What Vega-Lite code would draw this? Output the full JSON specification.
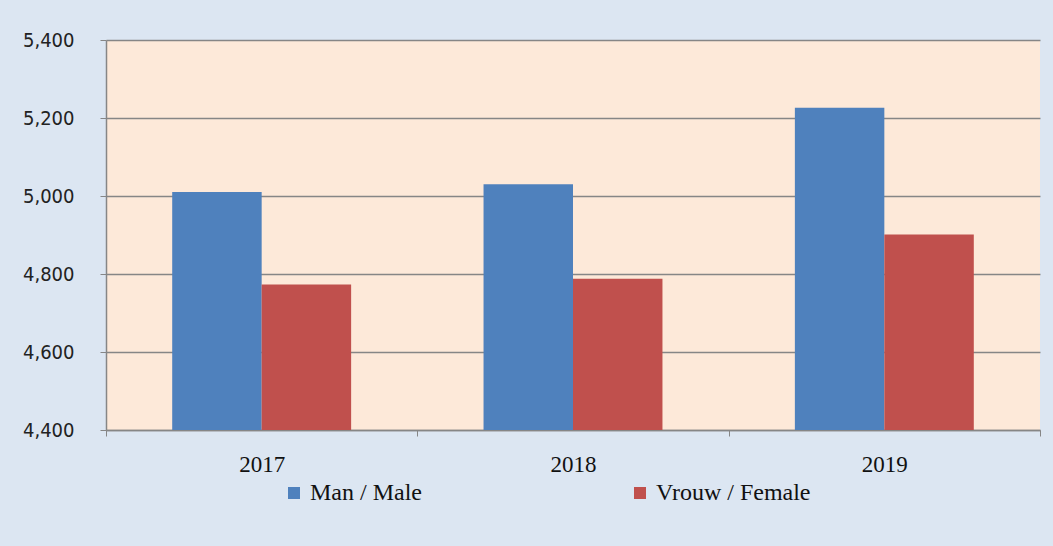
{
  "$schema": "https://vega.github.io/schema/vega-lite/v6.json",
  "width": 934,
  "height": 390,
  "autosize": {"type": "none"},
  "padding": {"left": 106, "top": 40, "right": 13, "bottom": 116},
  "background": "#DCE6F2",
  "data": {
    "values": [
      {"year": "2017", "sex": "Man / Male", "value": 5010},
      {"year": "2017", "sex": "Vrouw / Female", "value": 4773},
      {"year": "2018", "sex": "Man / Male", "value": 5030},
      {"year": "2018", "sex": "Vrouw / Female", "value": 4788},
      {"year": "2019", "sex": "Man / Male", "value": 5226},
      {"year": "2019", "sex": "Vrouw / Female", "value": 4901}
    ]
  },
  "mark": {"type": "bar", "clip": true},
  "encoding": {
    "x": {
      "field": "year",
      "type": "nominal",
      "scale": {"paddingInner": 0, "paddingOuter": 0},
      "axis": {
        "title": null,
        "labelAngle": 0,
        "tickBand": "extent",
        "tickSize": 6,
        "tickColor": "#868686",
        "domainColor": "#868686",
        "domainWidth": 1.5,
        "labelFont": "Liberation Serif",
        "labelFontSize": 23,
        "labelColor": "#111111",
        "labelPadding": 17
      }
    },
    "xOffset": {
      "field": "sex",
      "type": "nominal",
      "scale": {"paddingInner": 0, "paddingOuter": 0.74}
    },
    "y": {
      "field": "value",
      "type": "quantitative",
      "scale": {"domain": [4400, 5400], "zero": false, "nice": false},
      "axis": {
        "title": null,
        "values": [4400, 4600, 4800, 5000, 5200, 5400],
        "format": ",d",
        "grid": true,
        "gridColor": "#868686",
        "gridWidth": 1.5,
        "domainColor": "#868686",
        "domainWidth": 1.5,
        "tickColor": "#868686",
        "tickSize": 6,
        "labelFont": "DejaVu Sans Condensed",
        "labelFontSize": 20,
        "labelColor": "#222222",
        "labelPadding": 26
      }
    },
    "color": {
      "field": "sex",
      "type": "nominal",
      "scale": {"domain": ["Man / Male", "Vrouw / Female"], "range": ["#4F81BD", "#C0504D"]},
      "legend": {
        "title": null,
        "orient": "none",
        "legendX": 176,
        "legendY": 441,
        "direction": "horizontal",
        "columnPadding": 206,
        "symbolType": "square",
        "symbolSize": 144,
        "symbolStrokeWidth": 0,
        "symbolOffset": 0,
        "labelFont": "Liberation Serif",
        "labelFontSize": 24,
        "labelColor": "#111111",
        "labelOffset": 4,
        "labelLimit": 0
      }
    }
  },
  "config": {
    "view": {"stroke": null, "fill": "#FDE9D9"},
    "legend": {"labelFont": "Liberation Serif"}
  }
}
